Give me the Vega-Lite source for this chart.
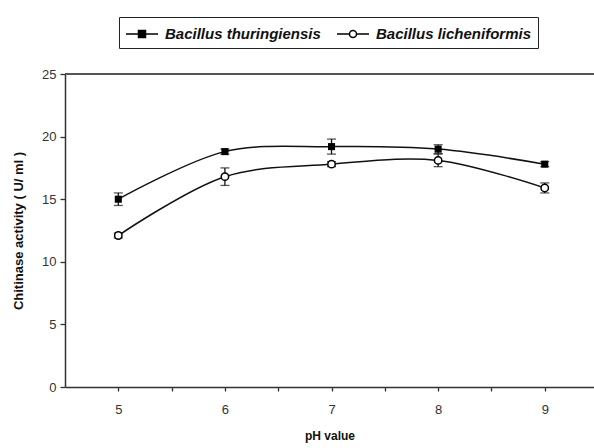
{
  "$schema": "https://vega.github.io/schema/vega-lite/v6.json",
  "width": 529,
  "height": 313,
  "autosize": {"type": "none"},
  "padding": {"left": 65, "top": 74, "right": 0, "bottom": 61},
  "background": "white",
  "config": {
    "view": {"stroke": null},
    "font": "Liberation Sans",
    "axis": {"grid": false, "domainColor": "#333", "domainWidth": 1.5, "tickColor": "#333", "tickWidth": 1.3, "labelColor": "#333", "labelFont": "Liberation Sans", "labelFontSize": 13, "titleFont": "Liberation Sans", "titleFontWeight": "bold", "titleColor": "#111"}
  },
  "data": {
    "values": [
      {"ph": 5, "species": "Bacillus thuringiensis", "activity": 15.0, "lo": 14.5, "hi": 15.5},
      {"ph": 6, "species": "Bacillus thuringiensis", "activity": 18.8, "lo": 18.6, "hi": 19.0},
      {"ph": 7, "species": "Bacillus thuringiensis", "activity": 19.2, "lo": 18.6, "hi": 19.8},
      {"ph": 8, "species": "Bacillus thuringiensis", "activity": 19.0, "lo": 18.65, "hi": 19.35},
      {"ph": 9, "species": "Bacillus thuringiensis", "activity": 17.8, "lo": 17.6, "hi": 18.0},
      {"ph": 5, "species": "Bacillus licheniformis", "activity": 12.1, "lo": 11.9, "hi": 12.3},
      {"ph": 6, "species": "Bacillus licheniformis", "activity": 16.8, "lo": 16.1, "hi": 17.5},
      {"ph": 7, "species": "Bacillus licheniformis", "activity": 17.8, "lo": 17.6, "hi": 18.0},
      {"ph": 8, "species": "Bacillus licheniformis", "activity": 18.1, "lo": 17.6, "hi": 18.6},
      {"ph": 9, "species": "Bacillus licheniformis", "activity": 15.9, "lo": 15.5, "hi": 16.3}
    ]
  },
  "layer": [
    {
      "mark": {"type": "rule", "color": "#555", "strokeWidth": 2},
      "encoding": {"y": {"datum": 25, "type": "quantitative", "title": "Chitinase activity ( U/ ml )", "scale": {"domain": [0, 25]}}}
    },
    {
      "mark": {"type": "errorbar", "color": "#111", "thickness": 1.3, "ticks": {"size": 9, "thickness": 1.3}},
      "encoding": {
        "x": {"field": "ph", "type": "quantitative", "title": "pH value"},
        "y": {"field": "lo", "type": "quantitative", "title": "Chitinase activity ( U/ ml )"},
        "y2": {"field": "hi"},
        "detail": {"field": "species"}
      }
    },
    {
      "mark": {"type": "line", "color": "#111", "strokeWidth": 1.5, "interpolate": "catmull-rom"},
      "encoding": {
        "x": {
          "field": "ph", "type": "quantitative", "title": "pH value",
          "scale": {"domain": [4.5, 9.462], "nice": false, "zero": false},
          "axis": {
            "titleFontSize": 12, "titlePadding": 14,
            "values": [5, 5.5, 6, 6.5, 7, 7.5, 8, 8.5, 9],
            "labelExpr": "datum.value % 1 === 0 ? format(datum.value, 'd') : ''",
            "tickSize": 4, "labelPadding": 12
          }
        },
        "y": {
          "field": "activity", "type": "quantitative", "title": "Chitinase activity ( U/ ml )",
          "scale": {"domain": [0, 25], "nice": false},
          "axis": {
            "titleFontSize": 13, "titlePadding": 16,
            "values": [0, 5, 10, 15, 20, 25], "tickSize": 5, "labelPadding": 4
          }
        },
        "detail": {"field": "species"}
      }
    },
    {
      "transform": [{"filter": "datum.species === 'Bacillus thuringiensis'"}],
      "mark": {"type": "point", "shape": "square", "filled": true, "color": "#000", "size": 50, "opacity": 1},
      "encoding": {
        "x": {"field": "ph", "type": "quantitative", "title": "pH value"},
        "y": {"field": "activity", "type": "quantitative", "title": "Chitinase activity ( U/ ml )"}
      }
    },
    {
      "transform": [{"filter": "datum.species === 'Bacillus licheniformis'"}],
      "mark": {"type": "point", "shape": "circle", "filled": true, "fill": "white", "stroke": "#000", "strokeWidth": 1.5, "size": 55, "opacity": 1},
      "encoding": {
        "x": {"field": "ph", "type": "quantitative", "title": "pH value"},
        "y": {"field": "activity", "type": "quantitative", "title": "Chitinase activity ( U/ ml )"}
      }
    },
    {
      "transform": [{"filter": "false"}],
      "mark": {"type": "point", "filled": false, "color": "#000", "strokeWidth": 1.5, "opacity": 1},
      "encoding": {
        "shape": {
          "field": "species", "type": "nominal",
          "scale": {
            "domain": ["Bacillus thuringiensis", "Bacillus licheniformis"],
            "range": ["M-1,0H2.2M0.25,-0.35H0.95V0.35H0.25ZM0.25,-0.22H0.95M0.25,-0.11H0.95M0.25,0.11H0.95M0.25,0.22H0.95", "M-1,0H0.25M0.95,0H2.2M0.25,0A0.35,0.35 0 1 1 0.95,0A0.35,0.35 0 1 1 0.25,0Z"]
          },
          "legend": {
            "title": null, "orient": "none", "legendX": 54, "legendY": -57,
            "direction": "horizontal", "columns": 2, "padding": 6,
            "strokeColor": "#222", "fillColor": "white",
            "symbolSize": 400, "symbolOpacity": 1, "symbolStrokeColor": "#000", "symbolStrokeWidth": 1.5,
            "labelFont": "Liberation Sans", "labelFontSize": 15, "labelFontWeight": "bold", "labelFontStyle": "italic", "labelColor": "#111",
            "labelOffset": 18, "columnPadding": 13, "labelLimit": 300,
            "encode": {
              "legend": {"update": {"strokeWidth": {"value": 1.5}}},
              "symbols": {"update": {
                "stroke": {"value": "#000"},
                "strokeWidth": {"value": 1.5},
                "opacity": {"value": 1}
              }}
            }
          }
        }
      }
    }
  ]
}
